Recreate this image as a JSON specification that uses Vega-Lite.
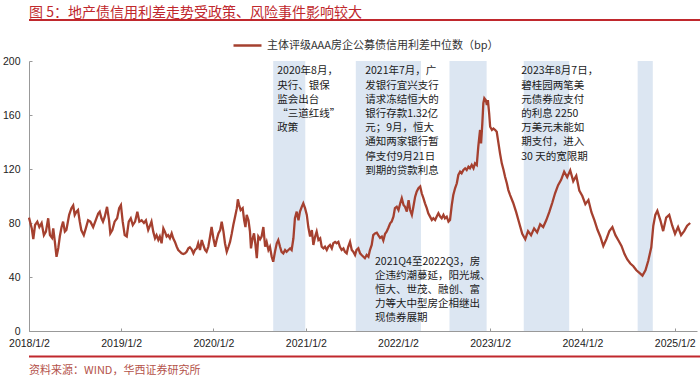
{
  "$schema": "https://vega.github.io/schema/vega-lite/v6.json",
  "padding": {"left": 2, "top": 5, "right": 0, "bottom": 0},
  "spacing": 9,
  "resolve": {"legend": {"color": "independent"}},
  "config": {
    "view": {"stroke": null},
    "font": "Noto Sans CJK SC",
    "background": "white"
  },
  "datasets": {
    "bands": [
      {"start": "2020-08-26", "end": "2020-12-31"},
      {"start": "2021-07-19", "end": "2022-04-03"},
      {"start": "2022-07-25", "end": "2022-12-19"},
      {"start": "2023-05-15", "end": "2023-11-11"},
      {"start": "2024-08-08", "end": "2024-10-07"}
    ],
    "notes": [
      {"date": "2020-09-11", "v": 196, "label": "2020年8月，\n央行、银保\n监会出台\n “三道红线”\n政策"},
      {"date": "2021-08-25", "v": 196, "label": "2021年7月，广\n发银行宜兴支行\n请求冻结恒大的\n银行存款1.32亿\n元；9月，恒大\n通知两家银行暂\n停支付9月21日\n到期的贷款利息"},
      {"date": "2023-05-05", "v": 196, "label": "2023年8月7日，\n碧桂园两笔美\n元债券应支付\n的利息 2250\n万美元未能如\n期支付，进入\n30 天的宽限期"},
      {"date": "2021-10-03", "v": 55.1, "label": "2021Q4至2022Q3，房\n企违约潮蔓延，阳光城、\n恒大、世茂、融创、富\n力等大中型房企相继出\n现债券展期"}
    ],
    "spread": [
      {"date": "2018-01-02", "v": 84},
      {"date": "2018-01-13", "v": 76},
      {"date": "2018-01-19", "v": 68},
      {"date": "2018-01-26", "v": 78.5},
      {"date": "2018-02-04", "v": 81},
      {"date": "2018-02-12", "v": 77},
      {"date": "2018-02-21", "v": 80},
      {"date": "2018-03-02", "v": 71},
      {"date": "2018-03-10", "v": 73.6},
      {"date": "2018-03-19", "v": 83.5},
      {"date": "2018-03-26", "v": 71},
      {"date": "2018-04-03", "v": 69},
      {"date": "2018-04-08", "v": 76},
      {"date": "2018-04-15", "v": 65},
      {"date": "2018-04-21", "v": 55},
      {"date": "2018-04-28", "v": 61.5},
      {"date": "2018-05-04", "v": 70},
      {"date": "2018-05-11", "v": 77},
      {"date": "2018-05-17", "v": 81},
      {"date": "2018-05-24", "v": 73.6},
      {"date": "2018-05-30", "v": 74.8},
      {"date": "2018-06-10", "v": 86},
      {"date": "2018-06-19", "v": 91},
      {"date": "2018-06-26", "v": 93},
      {"date": "2018-07-02", "v": 86},
      {"date": "2018-07-09", "v": 88.4},
      {"date": "2018-07-15", "v": 89.6},
      {"date": "2018-07-22", "v": 81},
      {"date": "2018-07-28", "v": 74.8},
      {"date": "2018-08-07", "v": 71},
      {"date": "2018-08-15", "v": 76},
      {"date": "2018-08-24", "v": 82},
      {"date": "2018-09-02", "v": 81},
      {"date": "2018-09-13", "v": 77},
      {"date": "2018-09-23", "v": 82},
      {"date": "2018-10-03", "v": 87},
      {"date": "2018-10-09", "v": 88.4},
      {"date": "2018-10-16", "v": 83.5},
      {"date": "2018-10-22", "v": 81},
      {"date": "2018-10-29", "v": 84.7},
      {"date": "2018-11-07", "v": 92},
      {"date": "2018-11-15", "v": 82},
      {"date": "2018-11-20", "v": 72.3},
      {"date": "2018-11-28", "v": 74.8},
      {"date": "2018-12-07", "v": 81},
      {"date": "2018-12-17", "v": 83.5},
      {"date": "2018-12-25", "v": 91},
      {"date": "2019-01-01", "v": 93.3},
      {"date": "2019-01-08", "v": 81},
      {"date": "2019-01-16", "v": 71},
      {"date": "2019-01-24", "v": 70},
      {"date": "2019-02-01", "v": 81},
      {"date": "2019-02-09", "v": 83.5},
      {"date": "2019-02-17", "v": 78.5},
      {"date": "2019-02-26", "v": 81},
      {"date": "2019-03-07", "v": 88.4},
      {"date": "2019-03-15", "v": 81},
      {"date": "2019-03-24", "v": 82},
      {"date": "2019-04-02", "v": 80},
      {"date": "2019-04-10", "v": 82},
      {"date": "2019-04-19", "v": 74.8},
      {"date": "2019-04-26", "v": 78},
      {"date": "2019-05-02", "v": 81},
      {"date": "2019-05-09", "v": 73.6},
      {"date": "2019-05-16", "v": 68.7},
      {"date": "2019-05-22", "v": 71},
      {"date": "2019-05-29", "v": 67.4},
      {"date": "2019-06-04", "v": 70},
      {"date": "2019-06-11", "v": 65},
      {"date": "2019-06-18", "v": 76},
      {"date": "2019-06-24", "v": 73.6},
      {"date": "2019-07-01", "v": 70},
      {"date": "2019-07-07", "v": 71},
      {"date": "2019-07-14", "v": 68.7},
      {"date": "2019-07-21", "v": 72.3},
      {"date": "2019-07-27", "v": 68.7},
      {"date": "2019-08-03", "v": 66},
      {"date": "2019-08-10", "v": 62.4},
      {"date": "2019-08-16", "v": 60},
      {"date": "2019-08-23", "v": 58.7},
      {"date": "2019-08-29", "v": 57.5},
      {"date": "2019-09-05", "v": 57},
      {"date": "2019-09-12", "v": 57.5},
      {"date": "2019-09-18", "v": 58.7},
      {"date": "2019-09-25", "v": 61.2},
      {"date": "2019-10-01", "v": 62},
      {"date": "2019-10-08", "v": 60.5},
      {"date": "2019-10-15", "v": 57.5},
      {"date": "2019-10-21", "v": 60},
      {"date": "2019-10-28", "v": 61.2},
      {"date": "2019-11-03", "v": 65},
      {"date": "2019-11-10", "v": 60},
      {"date": "2019-11-17", "v": 67.4},
      {"date": "2019-11-23", "v": 63.7},
      {"date": "2019-11-30", "v": 60},
      {"date": "2019-12-06", "v": 58.7},
      {"date": "2019-12-13", "v": 62.4},
      {"date": "2019-12-20", "v": 70},
      {"date": "2019-12-26", "v": 77},
      {"date": "2020-01-02", "v": 68.7},
      {"date": "2020-01-09", "v": 62.4},
      {"date": "2020-01-15", "v": 67.4},
      {"date": "2020-01-22", "v": 72.3},
      {"date": "2020-01-29", "v": 74.8},
      {"date": "2020-02-04", "v": 81},
      {"date": "2020-02-11", "v": 73.6},
      {"date": "2020-02-17", "v": 65},
      {"date": "2020-02-24", "v": 58.7},
      {"date": "2020-03-02", "v": 62.4},
      {"date": "2020-03-08", "v": 66},
      {"date": "2020-03-15", "v": 72.3},
      {"date": "2020-03-21", "v": 78.5},
      {"date": "2020-03-28", "v": 84.7},
      {"date": "2020-04-04", "v": 91},
      {"date": "2020-04-08", "v": 97.5},
      {"date": "2020-04-13", "v": 93.3},
      {"date": "2020-04-19", "v": 89.6},
      {"date": "2020-04-27", "v": 91},
      {"date": "2020-05-03", "v": 82},
      {"date": "2020-05-08", "v": 77},
      {"date": "2020-05-13", "v": 86},
      {"date": "2020-05-20", "v": 82},
      {"date": "2020-05-26", "v": 73.6},
      {"date": "2020-05-30", "v": 61.2},
      {"date": "2020-06-04", "v": 67.4},
      {"date": "2020-06-11", "v": 72.3},
      {"date": "2020-06-16", "v": 65},
      {"date": "2020-06-22", "v": 54},
      {"date": "2020-06-28", "v": 70},
      {"date": "2020-07-05", "v": 68},
      {"date": "2020-07-11", "v": 70},
      {"date": "2020-07-18", "v": 77},
      {"date": "2020-07-25", "v": 62.4},
      {"date": "2020-07-31", "v": 66},
      {"date": "2020-08-07", "v": 60},
      {"date": "2020-08-13", "v": 62.4},
      {"date": "2020-08-20", "v": 55},
      {"date": "2020-08-26", "v": 51.3},
      {"date": "2020-09-02", "v": 58.7},
      {"date": "2020-09-09", "v": 65},
      {"date": "2020-09-15", "v": 67.4},
      {"date": "2020-09-22", "v": 62.4},
      {"date": "2020-09-28", "v": 58.7},
      {"date": "2020-10-05", "v": 57.5},
      {"date": "2020-10-12", "v": 60},
      {"date": "2020-10-18", "v": 58.7},
      {"date": "2020-10-25", "v": 60},
      {"date": "2020-11-01", "v": 61.2},
      {"date": "2020-11-07", "v": 60},
      {"date": "2020-11-14", "v": 68.7},
      {"date": "2020-11-20", "v": 83.5},
      {"date": "2020-11-27", "v": 88.4},
      {"date": "2020-12-04", "v": 82},
      {"date": "2020-12-10", "v": 88.4},
      {"date": "2020-12-17", "v": 92},
      {"date": "2020-12-23", "v": 94.6},
      {"date": "2020-12-30", "v": 91},
      {"date": "2021-01-06", "v": 86},
      {"date": "2021-01-12", "v": 77},
      {"date": "2021-01-19", "v": 70},
      {"date": "2021-01-26", "v": 74.8},
      {"date": "2021-02-01", "v": 63.7},
      {"date": "2021-02-08", "v": 70},
      {"date": "2021-02-14", "v": 73.6},
      {"date": "2021-02-21", "v": 67.4},
      {"date": "2021-02-28", "v": 68.7},
      {"date": "2021-03-06", "v": 62.4},
      {"date": "2021-03-13", "v": 61.2},
      {"date": "2021-03-19", "v": 62.4},
      {"date": "2021-03-26", "v": 60},
      {"date": "2021-04-01", "v": 62.4},
      {"date": "2021-04-08", "v": 63.7},
      {"date": "2021-04-15", "v": 61.2},
      {"date": "2021-04-21", "v": 65},
      {"date": "2021-04-28", "v": 66},
      {"date": "2021-05-04", "v": 65},
      {"date": "2021-05-11", "v": 66},
      {"date": "2021-05-17", "v": 62.4},
      {"date": "2021-05-24", "v": 60},
      {"date": "2021-05-31", "v": 61.2},
      {"date": "2021-06-06", "v": 58.7},
      {"date": "2021-06-13", "v": 57.5},
      {"date": "2021-06-19", "v": 62.4},
      {"date": "2021-06-26", "v": 66},
      {"date": "2021-07-03", "v": 60},
      {"date": "2021-07-09", "v": 58.7},
      {"date": "2021-07-16", "v": 56.3},
      {"date": "2021-07-22", "v": 60},
      {"date": "2021-07-29", "v": 61.2},
      {"date": "2021-08-05", "v": 57.5},
      {"date": "2021-08-11", "v": 56.3},
      {"date": "2021-08-18", "v": 55},
      {"date": "2021-08-24", "v": 53.9},
      {"date": "2021-08-31", "v": 56.3},
      {"date": "2021-09-07", "v": 55},
      {"date": "2021-09-13", "v": 60},
      {"date": "2021-09-20", "v": 63.7},
      {"date": "2021-09-26", "v": 71},
      {"date": "2021-10-03", "v": 72.3},
      {"date": "2021-10-10", "v": 72.8},
      {"date": "2021-10-16", "v": 71},
      {"date": "2021-10-23", "v": 69},
      {"date": "2021-10-30", "v": 70},
      {"date": "2021-11-05", "v": 67},
      {"date": "2021-11-12", "v": 72},
      {"date": "2021-11-18", "v": 73.5},
      {"date": "2021-11-25", "v": 76.5},
      {"date": "2021-12-02", "v": 79.8},
      {"date": "2021-12-08", "v": 81},
      {"date": "2021-12-15", "v": 84.7},
      {"date": "2021-12-21", "v": 91},
      {"date": "2021-12-28", "v": 92},
      {"date": "2022-01-04", "v": 89.6},
      {"date": "2022-01-11", "v": 94.6},
      {"date": "2022-01-17", "v": 98.3},
      {"date": "2022-01-24", "v": 93.3},
      {"date": "2022-01-30", "v": 92},
      {"date": "2022-02-06", "v": 88.4},
      {"date": "2022-02-13", "v": 97},
      {"date": "2022-02-19", "v": 89.6},
      {"date": "2022-02-26", "v": 86},
      {"date": "2022-03-04", "v": 92},
      {"date": "2022-03-11", "v": 99.5},
      {"date": "2022-03-17", "v": 103.2},
      {"date": "2022-03-24", "v": 105.7},
      {"date": "2022-03-31", "v": 107},
      {"date": "2022-04-06", "v": 102},
      {"date": "2022-04-13", "v": 98.3},
      {"date": "2022-04-19", "v": 94.6},
      {"date": "2022-04-26", "v": 91},
      {"date": "2022-05-02", "v": 87.2},
      {"date": "2022-05-09", "v": 84.7},
      {"date": "2022-05-16", "v": 82.2},
      {"date": "2022-05-22", "v": 83.5},
      {"date": "2022-05-29", "v": 82.2},
      {"date": "2022-06-04", "v": 84.7},
      {"date": "2022-06-11", "v": 87.2},
      {"date": "2022-06-18", "v": 84.7},
      {"date": "2022-06-24", "v": 83.5},
      {"date": "2022-07-01", "v": 86},
      {"date": "2022-07-07", "v": 83.5},
      {"date": "2022-07-14", "v": 84.7},
      {"date": "2022-07-21", "v": 81},
      {"date": "2022-07-27", "v": 82.2},
      {"date": "2022-08-03", "v": 93.3},
      {"date": "2022-08-09", "v": 100.7},
      {"date": "2022-08-16", "v": 105.7},
      {"date": "2022-08-23", "v": 109.4},
      {"date": "2022-08-29", "v": 115.6},
      {"date": "2022-09-05", "v": 118},
      {"date": "2022-09-11", "v": 116.8},
      {"date": "2022-09-18", "v": 119.3},
      {"date": "2022-09-25", "v": 120.5},
      {"date": "2022-10-01", "v": 119.3},
      {"date": "2022-10-08", "v": 121.7},
      {"date": "2022-10-14", "v": 120.5},
      {"date": "2022-10-21", "v": 123},
      {"date": "2022-10-28", "v": 120.5},
      {"date": "2022-11-03", "v": 124.2},
      {"date": "2022-11-10", "v": 123},
      {"date": "2022-11-16", "v": 136.5},
      {"date": "2022-11-23", "v": 148.9},
      {"date": "2022-11-27", "v": 139},
      {"date": "2022-12-02", "v": 153.8},
      {"date": "2022-12-06", "v": 168.7},
      {"date": "2022-12-10", "v": 172.4},
      {"date": "2022-12-16", "v": 171},
      {"date": "2022-12-20", "v": 167.4},
      {"date": "2022-12-24", "v": 171},
      {"date": "2022-12-29", "v": 161.3},
      {"date": "2023-01-02", "v": 151.3},
      {"date": "2023-01-09", "v": 148.9},
      {"date": "2023-01-15", "v": 150},
      {"date": "2023-01-22", "v": 148.9},
      {"date": "2023-01-28", "v": 147.6},
      {"date": "2023-02-04", "v": 139},
      {"date": "2023-02-10", "v": 131.6},
      {"date": "2023-02-17", "v": 124.2},
      {"date": "2023-02-24", "v": 119.3},
      {"date": "2023-03-02", "v": 114.3},
      {"date": "2023-03-09", "v": 109.4},
      {"date": "2023-03-15", "v": 104.4},
      {"date": "2023-03-22", "v": 100.7},
      {"date": "2023-04-03", "v": 95},
      {"date": "2023-04-15", "v": 88},
      {"date": "2023-04-27", "v": 80},
      {"date": "2023-05-09", "v": 72},
      {"date": "2023-05-21", "v": 68},
      {"date": "2023-06-01", "v": 74},
      {"date": "2023-06-13", "v": 71},
      {"date": "2023-06-25", "v": 76},
      {"date": "2023-07-07", "v": 73},
      {"date": "2023-07-19", "v": 79},
      {"date": "2023-07-31", "v": 77},
      {"date": "2023-08-12", "v": 82},
      {"date": "2023-08-24", "v": 88},
      {"date": "2023-09-05", "v": 95},
      {"date": "2023-09-16", "v": 102},
      {"date": "2023-09-28", "v": 108},
      {"date": "2023-10-10", "v": 112},
      {"date": "2023-10-22", "v": 118},
      {"date": "2023-11-03", "v": 114},
      {"date": "2023-11-15", "v": 119},
      {"date": "2023-11-27", "v": 111},
      {"date": "2023-12-09", "v": 115},
      {"date": "2023-12-21", "v": 104},
      {"date": "2024-01-02", "v": 100},
      {"date": "2024-01-14", "v": 94},
      {"date": "2024-01-26", "v": 97},
      {"date": "2024-02-07", "v": 88},
      {"date": "2024-02-19", "v": 82},
      {"date": "2024-03-02", "v": 75},
      {"date": "2024-03-13", "v": 70},
      {"date": "2024-03-25", "v": 63},
      {"date": "2024-04-06", "v": 68},
      {"date": "2024-04-18", "v": 74},
      {"date": "2024-04-30", "v": 77},
      {"date": "2024-05-12", "v": 71},
      {"date": "2024-05-24", "v": 67},
      {"date": "2024-06-05", "v": 63},
      {"date": "2024-06-17", "v": 57},
      {"date": "2024-06-28", "v": 53},
      {"date": "2024-07-10", "v": 50},
      {"date": "2024-07-22", "v": 48},
      {"date": "2024-08-03", "v": 45},
      {"date": "2024-08-15", "v": 43},
      {"date": "2024-08-27", "v": 41},
      {"date": "2024-09-08", "v": 45},
      {"date": "2024-09-19", "v": 52},
      {"date": "2024-10-01", "v": 62},
      {"date": "2024-10-09", "v": 78},
      {"date": "2024-10-17", "v": 86},
      {"date": "2024-10-25", "v": 89},
      {"date": "2024-11-06", "v": 82},
      {"date": "2024-11-17", "v": 74},
      {"date": "2024-11-29", "v": 84},
      {"date": "2024-12-11", "v": 86},
      {"date": "2024-12-23", "v": 78},
      {"date": "2025-01-03", "v": 72},
      {"date": "2025-01-15", "v": 77},
      {"date": "2025-01-27", "v": 71},
      {"date": "2025-02-08", "v": 74},
      {"date": "2025-02-20", "v": 78},
      {"date": "2025-03-04", "v": 80}
    ]
  },
  "vconcat": [
    {
      "width": 698,
      "height": 2,
      "view": {"fill": "#C0282D", "stroke": null},
      "title": {
        "text": "图 5：地产债信用利差走势受政策、风险事件影响较大",
        "anchor": "start",
        "font": "Noto Sans CJK SC",
        "fontSize": 14,
        "fontWeight": "normal",
        "color": "#C0282D",
        "offset": -0.5
      },
      "data": {"values": [{}]},
      "mark": {"type": "text", "fontSize": 0},
      "encoding": {"text": {"value": ""}}
    },
    {
      "spacing": 6.5,
      "resolve": {"legend": {"color": "independent"}},
      "vconcat": [
        {
          "width": 668,
          "height": 270,
          "layer": [
            {
              "data": {"name": "bands"},
              "mark": {"type": "rect", "color": "#DCE6F2"},
              "encoding": {
                "x": {
                  "field": "start",
                  "type": "temporal",
                  "scale": {
                    "type": "utc",
                    "domain": [
                      {"year": 2018, "month": 1, "date": 2, "utc": true},
                      {"year": 2025, "month": 3, "date": 31, "utc": true}
                    ]
                  },
                  "axis": {
                    "title": null,
                    "grid": false,
                    "values": [
                      {"year": 2018, "month": 1, "date": 2, "utc": true},
                      {"year": 2019, "month": 1, "date": 2, "utc": true},
                      {"year": 2020, "month": 1, "date": 2, "utc": true},
                      {"year": 2021, "month": 1, "date": 2, "utc": true},
                      {"year": 2022, "month": 1, "date": 2, "utc": true},
                      {"year": 2023, "month": 1, "date": 2, "utc": true},
                      {"year": 2024, "month": 1, "date": 2, "utc": true},
                      {"year": 2025, "month": 1, "date": 2, "utc": true}
                    ],
                    "format": "%Y/%-m/%-d",
                    "labelFlush": false,
                    "labelOverlap": false,
                    "labelFont": "Liberation Sans",
                    "labelFontSize": 10.5,
                    "labelColor": "#222222",
                    "domainColor": "#999999",
                    "tickColor": "#999999",
                    "tickSize": -3,
                    "labelPadding": 10
                  }
                },
                "x2": {"field": "end"}
              }
            },
            {
              "data": {"name": "spread"},
              "mark": {"type": "line", "strokeWidth": 2.3},
              "encoding": {
                "x": {"field": "date", "type": "temporal"},
                "y": {
                  "field": "v",
                  "type": "quantitative",
                  "scale": {"domain": [0, 200], "nice": false},
                  "axis": {
                    "title": null,
                    "grid": false,
                    "values": [0, 20, 40, 60, 80, 100, 120, 140, 160, 180, 200],
                    "labelFont": "Liberation Sans",
                    "labelFontSize": 10.5,
                    "labelColor": "#222222",
                    "domainColor": "#999999",
                    "tickColor": "#999999",
                    "tickSize": -3,
                    "labelPadding": 12
                  }
                },
                "color": {
                  "datum": "主体评级AAA房企公募债信用利差中位数（bp）",
                  "scale": {"range": ["#A5402F"]},
                  "legend": {
                    "title": null,
                    "orient": "none",
                    "legendX": 203,
                    "legendY": -31,
                    "padding": 0,
                    "symbolType": "stroke",
                    "symbolSize": 784,
                    "symbolStrokeWidth": 2.5,
                    "labelFont": "Noto Sans CJK SC",
                    "labelFontSize": 11,
                    "labelColor": "#333333",
                    "labelLimit": 400
                  }
                }
              }
            },
            {
              "data": {"name": "notes"},
              "mark": {
                "type": "text",
                "align": "left",
                "baseline": "top",
                "lineBreak": "\n",
                "lineHeight": 14.2,
                "font": "Noto Sans CJK SC",
                "fontSize": 10.5,
                "color": "#1a1a1a"
              },
              "encoding": {
                "x": {"field": "date", "type": "temporal"},
                "y": {"field": "v", "type": "quantitative"},
                "text": {"field": "label", "type": "nominal"}
              }
            }
          ]
        },
        {
          "width": 698,
          "height": 2,
          "view": {"fill": "#C0282D", "stroke": null},
          "title": {
            "text": "资料来源：WIND，华西证券研究所",
            "orient": "bottom",
            "anchor": "start",
            "font": "Noto Sans CJK SC",
            "fontSize": 11,
            "fontWeight": "normal",
            "color": "#B4524A",
            "offset": 7
          },
          "data": {"values": [{}]},
          "mark": {"type": "text", "fontSize": 0},
          "encoding": {"text": {"value": ""}}
        }
      ]
    }
  ]
}
